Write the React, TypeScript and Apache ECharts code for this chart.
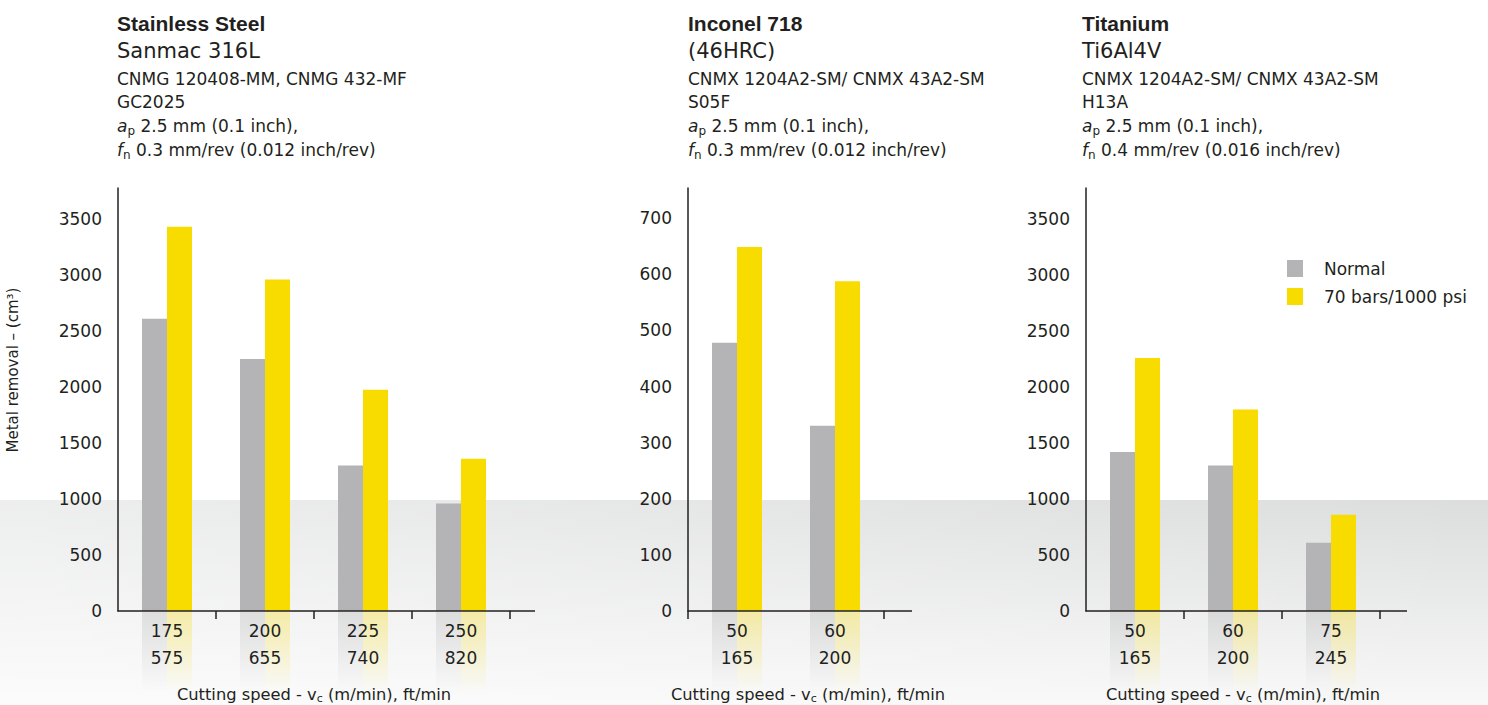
import React, { useEffect, useRef } from 'react';
import * as echarts from 'echarts';

// ---------- data ----------
const seriesNames = ['Normal', '70 bars/1000 psi'];

const steelSpeedM = ['175', '200', '225', '250'];
const steelSpeedFt = ['575', '655', '740', '820'];
const steelNormal = [2610, 2250, 1300, 960];
const steelHighPressure = [3430, 2960, 1975, 1360];

const inconelSpeedM = ['50', '60'];
const inconelSpeedFt = ['165', '200'];
const inconelNormal = [478, 330];
const inconelHighPressure = [649, 588];

const titaniumSpeedM = ['50', '60', '75'];
const titaniumSpeedFt = ['165', '200', '245'];
const titaniumNormal = [1420, 1300, 610];
const titaniumHighPressure = [2260, 1800, 860];

const steelTitle = ['Stainless Steel', 'Sanmac 316L', 'CNMG 120408-MM, CNMG 432-MF', 'GC2025'];
const steelCut = ['2.5 mm (0.1 inch),', '0.3 mm/rev (0.012 inch/rev)'];
const inconelTitle = ['Inconel 718', '(46HRC)', 'CNMX 1204A2-SM/ CNMX 43A2-SM', 'S05F'];
const inconelCut = ['2.5 mm (0.1 inch),', '0.3 mm/rev (0.012 inch/rev)'];
const titaniumTitle = ['Titanium', 'Ti6Al4V', 'CNMX 1204A2-SM/ CNMX 43A2-SM', 'H13A'];
const titaniumCut = ['2.5 mm (0.1 inch),', '0.4 mm/rev (0.016 inch/rev)'];

const yAxisTitle = 'Metal removal – (cm³)';
const xAxisTitleMain = 'Cutting speed - v';
const xAxisTitleSub = 'c';
const xAxisTitleEnd = ' (m/min), ft/min';

// ---------- style ----------
const FONT = '"DejaVu Sans", "Liberation Sans", sans-serif';
const BOLD_FONT = '"Liberation Sans", Arial, sans-serif';
const TEXT = '#231f20';
const GRAY = '#b4b4b6';
const YELLOW = '#f8dc00';
const W = 1488;
const H = 705;
const GRID_TOP = 188;
const AXIS_Y = 611;

const panels = [
  { left: 118, width: 392, axisEnd: 535, titleX: 117, nameX: 314, max: 3777, interval: 500,
    cats: steelSpeedM, ft: steelSpeedFt, normal: steelNormal, hp: steelHighPressure, title: steelTitle, cut: steelCut },
  { left: 688, width: 196, axisEnd: 912, titleX: 688, nameX: 808, max: 754, interval: 100,
    cats: inconelSpeedM, ft: inconelSpeedFt, normal: inconelNormal, hp: inconelHighPressure, title: inconelTitle, cut: inconelCut },
  { left: 1086, width: 294, axisEnd: 1407, titleX: 1082, nameX: 1243, max: 3777, interval: 500,
    cats: titaniumSpeedM, ft: titaniumSpeedFt, normal: titaniumNormal, hp: titaniumHighPressure, title: titaniumTitle, cut: titaniumCut },
];

function txt(x: number, y: number, text: string, extra: any = {}, elExtra: any = {}) {
  return {
    type: 'text',
    x,
    y,
    silent: true,
    ...elExtra,
    style: {
      text,
      fill: TEXT,
      fontFamily: FONT,
      fontSize: 17,
      align: 'left',
      verticalAlign: 'middle',
      textAlign: 'left',
      textVerticalAlign: 'middle',
      ...extra,
    },
  };
}

const subRich = {
  i: { fontFamily: FONT, fontSize: 17, fontStyle: 'italic', lineHeight: 22, fill: TEXT, color: TEXT },
  n: { fontFamily: FONT, fontSize: 17, lineHeight: 22, fill: TEXT, color: TEXT },
  s: { fontFamily: FONT, fontSize: 12, lineHeight: 12, verticalAlign: 'bottom', fill: TEXT, color: TEXT },
};

function buildOption() {
  const grids: any[] = [];
  const xAxes: any[] = [];
  const yAxes: any[] = [];
  const series: any[] = [];
  const graphics: any[] = [];

  graphics.push({
    type: 'rect', z: -20, silent: true,
    shape: { x: 0, y: 500, width: W, height: H - 500 },
    style: {
      fill: { type: 'linear', x: 0, y: 0, x2: 0, y2: 1,
        colorStops: [{ offset: 0, color: '#dcdddd' }, { offset: 1, color: '#f8f8f8' }] },
    },
  });
  graphics.push({
    type: 'rect', z: -19, silent: true,
    shape: { x: 0, y: 500, width: W, height: H - 500 },
    style: {
      fill: { type: 'linear', x: 0, y: 0, x2: 1, y2: 0,
        colorStops: [{ offset: 0, color: 'rgba(255,255,255,0.5)' }, { offset: 1, color: 'rgba(255,255,255,0)' }] },
    },
  });

  panels.forEach((p, k) => {
    grids.push({ left: p.left, width: p.width, top: GRID_TOP, bottom: H - AXIS_Y, containLabel: false });
    xAxes.push({
      type: 'category', gridIndex: k, data: p.cats, z: 5,
      axisLine: { lineStyle: { color: TEXT, width: 1.5 } },
      axisTick: { show: true, length: 8, interval: (i: number) => i !== 0, lineStyle: { color: TEXT, width: 1.5 } },
      axisLabel: {
        interval: 0, margin: 6, fontFamily: FONT, fontSize: 17, color: TEXT, lineHeight: 27,
        formatter: (v: string, i: number) => v + '\n' + p.ft[i],
      },
    });
    yAxes.push({
      type: 'value', gridIndex: k, min: 0, max: p.max, interval: p.interval,
      axisLine: { show: true, lineStyle: { color: TEXT, width: 1.5 } },
      axisTick: { show: false },
      splitLine: { show: false },
      axisLabel: {
        margin: 16, fontFamily: FONT, fontSize: 17, color: TEXT, showMaxLabel: false,
        formatter: (v: number) => String(v),
      },
    });
    series.push({
      type: 'bar', name: seriesNames[0], xAxisIndex: k, yAxisIndex: k, data: p.normal,
      barWidth: 25, barGap: '0%', itemStyle: { color: GRAY }, silent: true, z: 2,
    });
    series.push({
      type: 'bar', name: seriesNames[1], xAxisIndex: k, yAxisIndex: k, data: p.hp,
      barWidth: 25, barGap: '0%', itemStyle: { color: YELLOW }, silent: true, z: 2,
    });

    // extension of x axis line
    graphics.push({
      type: 'line', silent: true, z: 10,
      shape: { x1: p.left + p.width, y1: AXIS_Y, x2: p.axisEnd, y2: AXIS_Y },
      style: { stroke: TEXT, lineWidth: 1.5 },
    });

    // titles
    graphics.push(txt(p.titleX, 23.5, p.title[0], { fontFamily: BOLD_FONT, fontWeight: 'bold', fontSize: 21 }));
    graphics.push(txt(p.titleX, 50.5, p.title[1], { fontSize: 21 }));
    graphics.push(txt(p.titleX, 79, p.title[2]));
    graphics.push(txt(p.titleX, 102, p.title[3]));
    graphics.push(txt(p.titleX, 126, '{i|a}{s|p}{n| ' + p.cut[0] + '}', { rich: subRich }));
    graphics.push(txt(p.titleX, 149.5, '{i|f}{s|n}{n| ' + p.cut[1] + '}', { rich: subRich }));

    // x axis name
    graphics.push(txt(p.nameX, 694, '{n|' + xAxisTitleMain + '}{s|' + xAxisTitleSub + '}{n|' + xAxisTitleEnd + '}', {
      align: 'center', textAlign: 'center',
      rich: {
        n: { fontFamily: FONT, fontSize: 16.3, lineHeight: 20, fill: TEXT, color: TEXT },
        s: { fontFamily: FONT, fontSize: 11, lineHeight: 11, verticalAlign: 'bottom', fill: TEXT, color: TEXT },
      },
    }));
  });

  // glow under the category labels
  panels.forEach((p, k) => {
    const gi = panels.length + k;
    grids.push({ left: p.left, width: p.width, top: AXIS_Y + 1, height: 80 });
    xAxes.push({ type: 'category', gridIndex: gi, data: p.cats, show: false });
    yAxes.push({ type: 'value', gridIndex: gi, min: 0, max: 1, show: false, inverse: true });
    const glow = (c: string) => ({
      type: 'linear', x: 0, y: 0, x2: 0, y2: 1,
      colorStops: [{ offset: 0, color: c.replace('A', '0.38') }, { offset: 1, color: c.replace('A', '0') }],
    });
    series.push({
      type: 'bar', name: 'glow-n', xAxisIndex: gi, yAxisIndex: gi, data: p.cats.map(() => 1),
      barWidth: 25, barGap: '0%', silent: true, z: 1, itemStyle: { color: glow('rgba(185,186,188,A)') },
    });
    series.push({
      type: 'bar', name: 'glow-y', xAxisIndex: gi, yAxisIndex: gi, data: p.cats.map(() => 1),
      barWidth: 25, barGap: '0%', silent: true, z: 1, itemStyle: { color: glow('rgba(248,222,40,A)') },
    });
  });

  graphics.push(txt(13, 370, yAxisTitle, { fontSize: 15, align: 'center', textAlign: 'center' }, { rotation: Math.PI / 2 }));

  return {
    animation: false,
    backgroundColor: '#ffffff',
    textStyle: { fontFamily: FONT },
    grid: grids,
    xAxis: xAxes,
    yAxis: yAxes,
    series,
    legend: {
      data: seriesNames, orient: 'vertical', left: 1287, top: 260, padding: 0,
      itemWidth: 16, itemHeight: 17, itemGap: 11, icon: 'rect', selectedMode: false,
      textStyle: { fontFamily: FONT, fontSize: 17, color: TEXT, lineHeight: 17, padding: [0, 0, 0, 16] },
    },
    graphic: { elements: graphics },
  };
}

export default function App() {
  const ref = useRef<HTMLDivElement>(null);
  useEffect(() => {
    if (!ref.current) return;
    const chart = echarts.init(ref.current, undefined, { renderer: 'svg' });
    chart.setOption(buildOption() as any);
    return () => chart.dispose();
  }, []);
  return <div ref={ref} style={{ position: 'fixed', left: 0, top: 0, width: W, height: H, background: '#fff' }} />;
}
